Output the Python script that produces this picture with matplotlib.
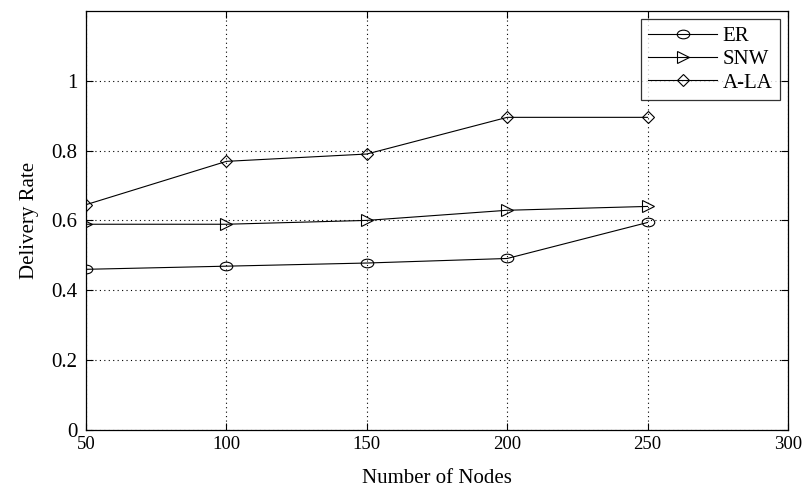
import matplotlib
matplotlib.use("Agg")
import matplotlib.pyplot as plt
from matplotlib.path import Path
from matplotlib.transforms import Affine2D

plt.rcParams['font.family'] = ['Liberation Serif', 'DejaVu Serif']

nodes = [50, 100, 150, 200, 250]
er = [0.46, 0.469, 0.478, 0.491, 0.594]
snw = [0.589, 0.589, 0.600, 0.629, 0.640]
ala = [0.645, 0.769, 0.790, 0.895, 0.895]

# ellipse marker like the matlab 'o' after stretching
ellipse = Path.unit_circle().transformed(Affine2D().scale(1.45, 1.0))

fig = plt.figure(figsize=(8.04, 4.9), dpi=100)
ax = fig.add_axes([0.107, 0.1224, 0.873, 0.8556])

lw = 0.8
ax.plot(nodes, er, color='black', lw=lw, marker=ellipse, markersize=9,
        markerfacecolor='none', markeredgewidth=0.8, label='ER')
ax.plot(nodes, snw, color='black', lw=lw, marker='>', markersize=8,
        markerfacecolor='none', markeredgewidth=0.8, label='SNW')
ax.plot(nodes, ala, color='black', lw=lw, marker='D', markersize=6.5,
        markerfacecolor='none', markeredgewidth=0.8, label='A-LA')

ax.set_xlim(50, 300)
ax.set_ylim(0, 1.2)
ax.set_xticks([50, 100, 150, 200, 250, 300])
ax.set_yticks([0, 0.2, 0.4, 0.6, 0.8, 1])
ax.set_yticklabels(['0', '0.2', '0.4', '0.6', '0.8', '1'])

ax.grid(True, color='black', linestyle=(0, (1, 3)), linewidth=0.8)
ax.tick_params(direction='in', length=5, width=0.8, top=True, right=True)
ax.tick_params(axis='x', pad=4, labelsize=13.5)
ax.tick_params(axis='y', pad=6, labelsize=15)
for s in ax.spines.values():
    s.set_linewidth(0.9)

ax.set_xlabel('Number of Nodes', fontsize=15, labelpad=12)
ax.set_ylabel('Delivery Rate', fontsize=15, labelpad=9)

leg = ax.legend(loc='upper right', fontsize=15, frameon=True, fancybox=False,
                edgecolor='black', borderaxespad=0.4, handlelength=3.3,
                handletextpad=0.25, labelspacing=0.18, borderpad=0.35)
leg.get_frame().set_linewidth(0.9)

fig.savefig('out.png', dpi=100)
